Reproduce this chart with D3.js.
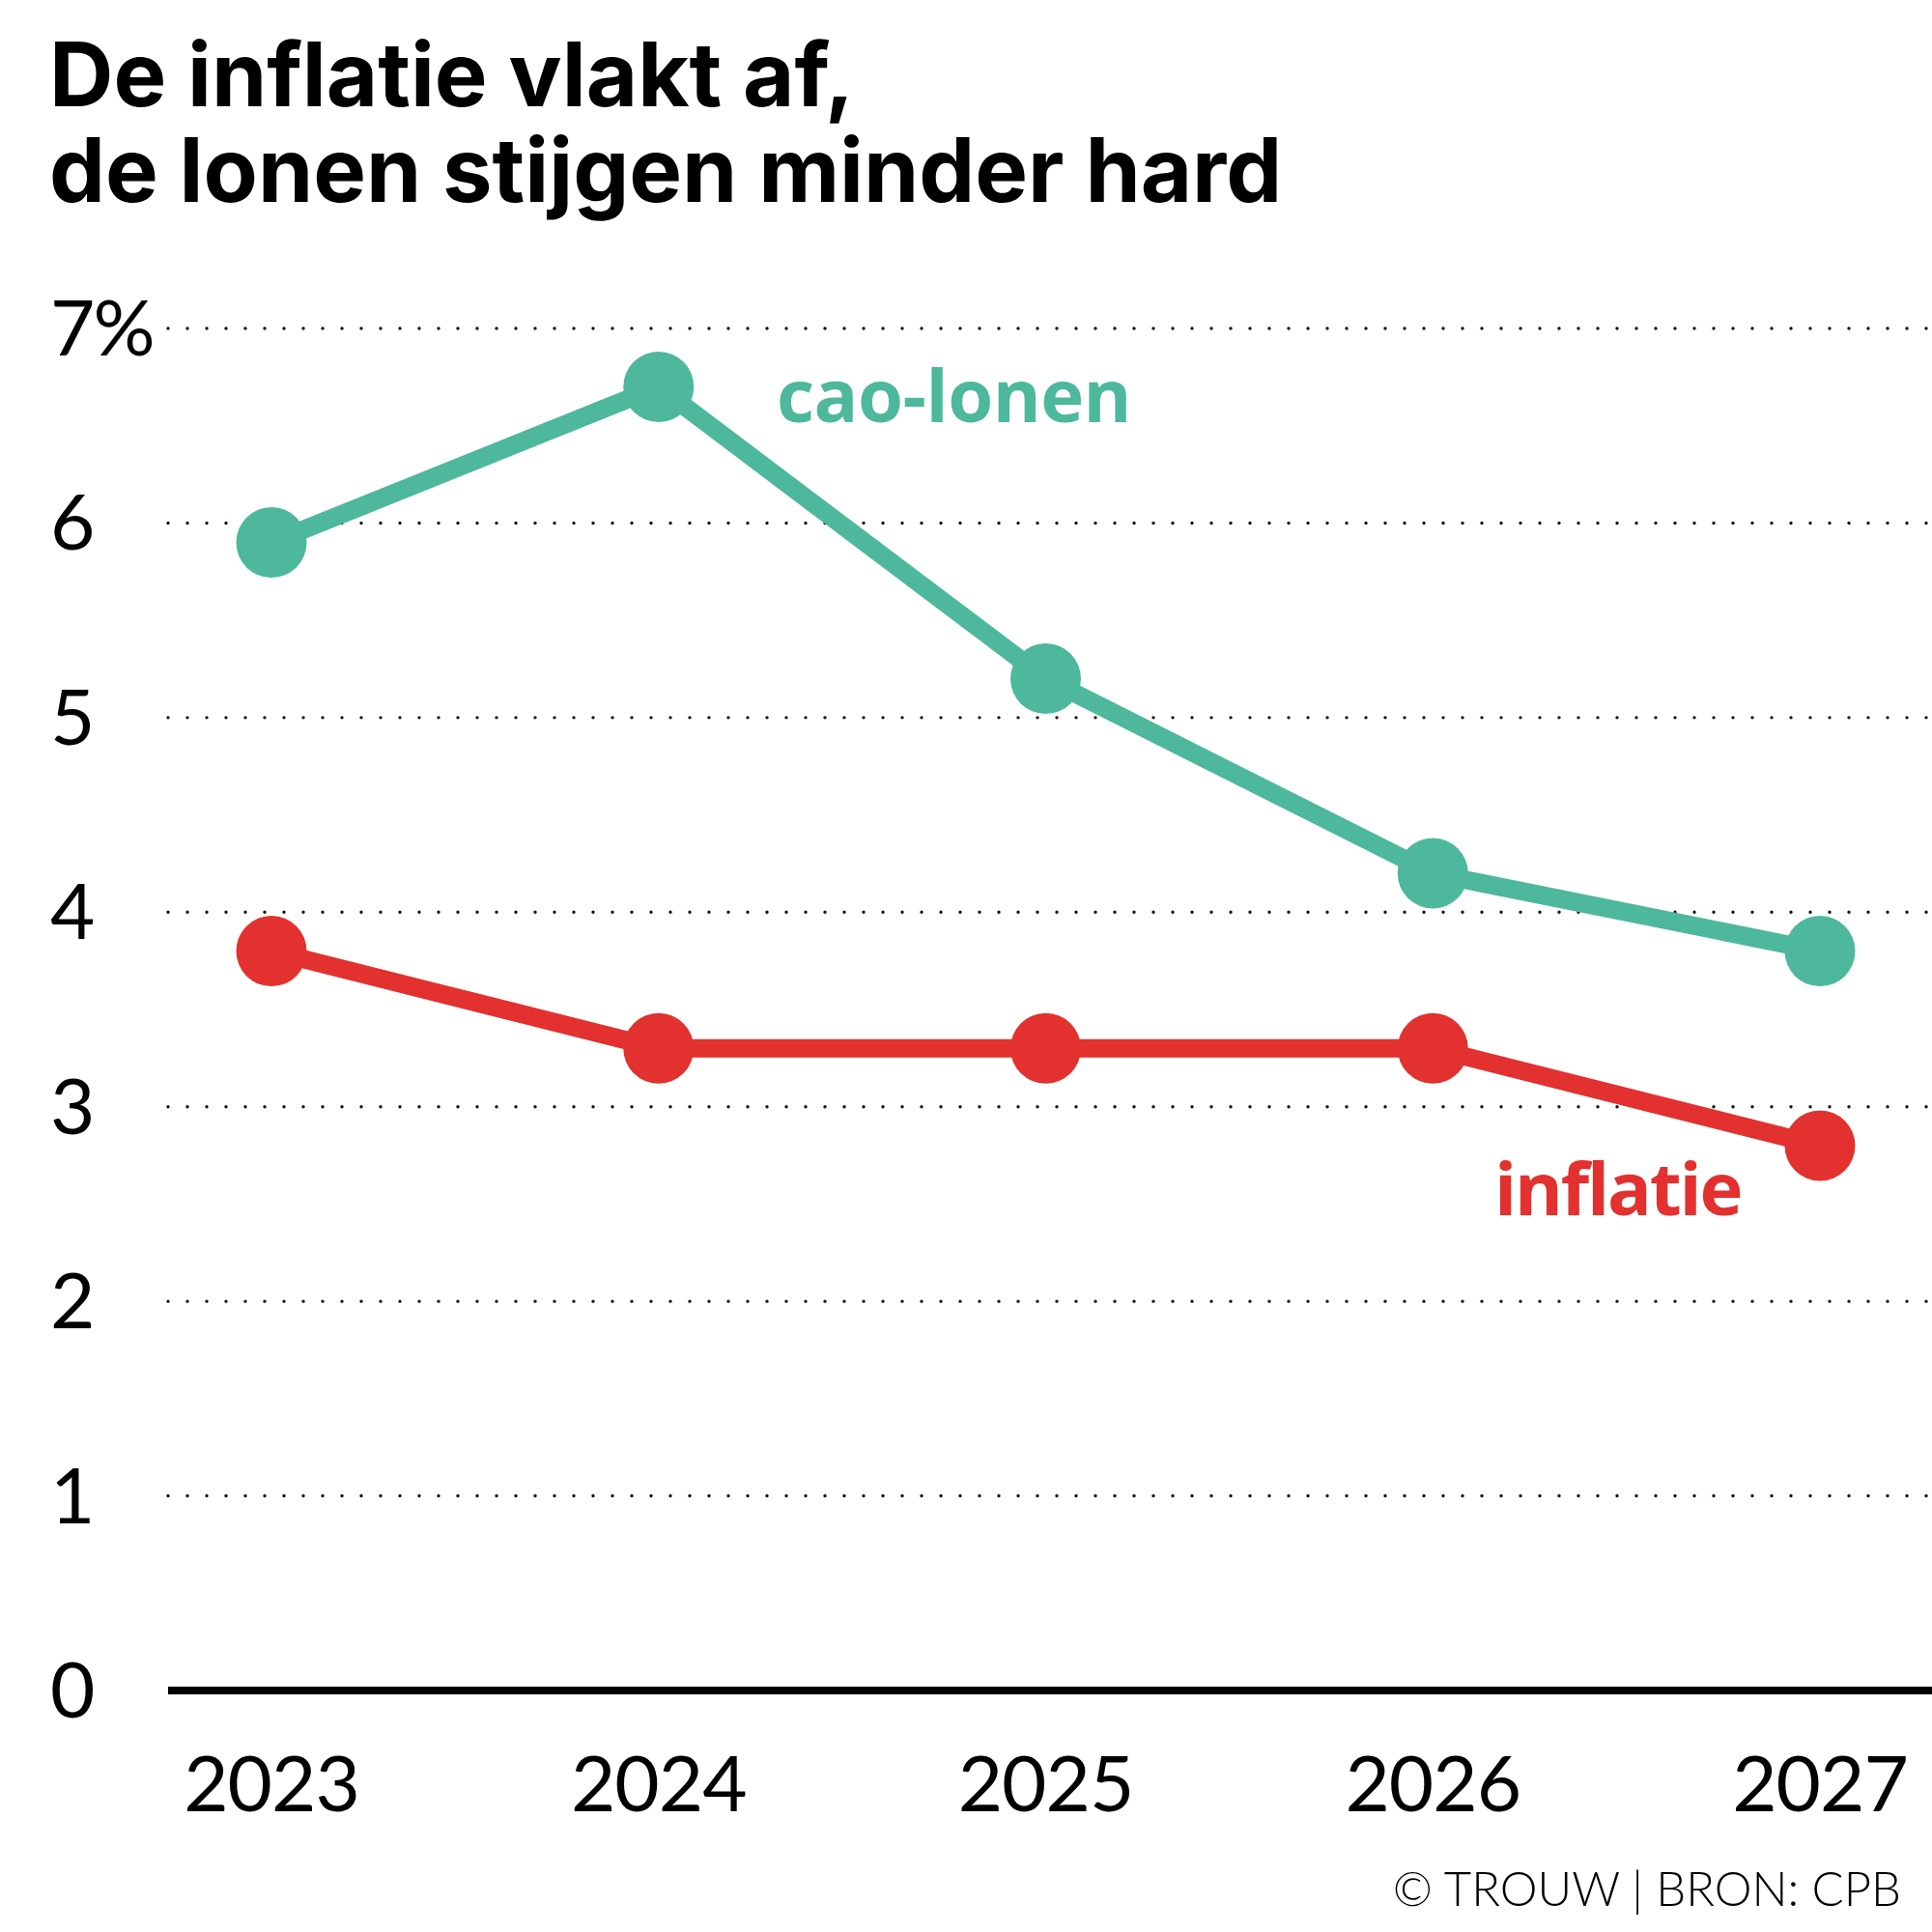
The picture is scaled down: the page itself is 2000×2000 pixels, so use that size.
<!DOCTYPE html>
<html>
<head>
<meta charset="utf-8">
<script src="https://cdn.jsdelivr.net/npm/d3@7/dist/d3.min.js"></script>
<style>
  html, body { margin: 0; padding: 0; background: #fff; }
  svg { display: block; }
</style>
</head>
<body>
<svg id="chart" width="2000" height="2000"></svg>
<script>
const years = ["2023", "2024", "2025", "2026", "2027"];
const caoLonen = [5.9, 6.7, 5.2, 4.2, 3.8];
const inflatie = [3.8, 3.3, 3.3, 3.3, 2.8];
const yTicks = [0, 1, 2, 3, 4, 5, 6, 7];
const yTickLabels = ["0", "1", "2", "3", "4", "5", "6", "7%"];
const titleLines = ["De inflatie vlakt af,", "de lonen stijgen minder hard"];
const seriesNames = ["cao-lonen", "inflatie"];
const sourceText = "© TROUW | BRON: CPB";

const teal = "#4db89b";
const red = "#e2312e";

const svg = d3.select("#chart");

const x = d3.scalePoint().domain(years).range([281, 1884]);
const y = d3.scaleLinear().domain([0, 7]).range([1750, 340]);

// Title (one text element, two lines)
const title = svg.append("text")
  .attr("font-family", "Inter, 'Liberation Sans', sans-serif")
  .attr("font-weight", 700)
  .attr("font-size", 92)
  .attr("fill", "#000");
title.selectAll("tspan").data(titleLines).join("tspan")
  .attr("x", 51)
  .attr("y", (d, i) => 110 + i * 99)
  .text(d => d);

// Gridlines (dotted) for non-zero ticks
svg.append("g").selectAll("line").data(yTicks.filter(t => t > 0)).join("line")
  .attr("x1", 174).attr("x2", 2000)
  .attr("y1", d => y(d)).attr("y2", d => y(d))
  .attr("stroke", "#111")
  .attr("stroke-width", 3.4)
  .attr("stroke-linecap", "round")
  .attr("stroke-dasharray", "0 20");

// Baseline
svg.append("line")
  .attr("x1", 174).attr("x2", 2000)
  .attr("y1", y(0)).attr("y2", y(0))
  .attr("stroke", "#000")
  .attr("stroke-width", 8);

// Y tick labels
svg.append("g").selectAll("text").data(yTicks).join("text")
  .attr("x", 52)
  .attr("y", d => y(d) + 28)
  .attr("font-family", "Lato, 'Noto Sans', sans-serif")
  .attr("font-weight", 400)
  .attr("font-size", 80)
  .attr("letter-spacing", -2)
  .attr("fill", "#000")
  .text((d, i) => yTickLabels[i]);

// X tick labels
svg.append("g").selectAll("text").data(years).join("text")
  .attr("x", d => x(d))
  .attr("y", 1875)
  .attr("text-anchor", "middle")
  .attr("font-family", "Lato, 'Noto Sans', sans-serif")
  .attr("font-weight", 400)
  .attr("font-size", 80)
  .attr("letter-spacing", -1)
  .attr("fill", "#000")
  .text(d => d);

// Lines
const line = d3.line().x(d => x(d.year)).y(d => y(d.value));
const series = [
  { name: seriesNames[0], values: caoLonen, color: teal },
  { name: seriesNames[1], values: inflatie, color: red }
];

series.forEach(s => {
  const pts = years.map((yr, i) => ({ year: yr, value: s.values[i] }));
  svg.append("path")
    .datum(pts)
    .attr("d", line)
    .attr("fill", "none")
    .attr("stroke", s.color)
    .attr("stroke-width", 19)
    .attr("stroke-linejoin", "round");
  svg.append("g").selectAll("circle").data(pts).join("circle")
    .attr("cx", d => x(d.year))
    .attr("cy", d => y(d.value))
    .attr("r", 36.5)
    .attr("fill", s.color);
});

// Series labels
svg.append("text")
  .attr("x", 804).attr("y", 437)
  .attr("font-family", "'Open Sans', sans-serif")
  .attr("font-weight", 700)
  .attr("font-size", 76)
  .attr("letter-spacing", -0.5)
  .attr("fill", teal)
  .text(seriesNames[0]);

svg.append("text")
  .attr("x", 1547).attr("y", 1258)
  .attr("font-family", "'Open Sans', sans-serif")
  .attr("font-weight", 700)
  .attr("font-size", 76)
  .attr("letter-spacing", -2.2)
  .attr("fill", red)
  .text(seriesNames[1]);

// Source
svg.append("text")
  .attr("x", 1968).attr("y", 1973)
  .attr("text-anchor", "end")
  .attr("font-family", "Lato, 'Noto Sans', sans-serif")
  .attr("font-weight", 300)
  .attr("font-size", 49)
  .attr("fill", "#000")
  .text(sourceText);
</script>
</body>
</html>
